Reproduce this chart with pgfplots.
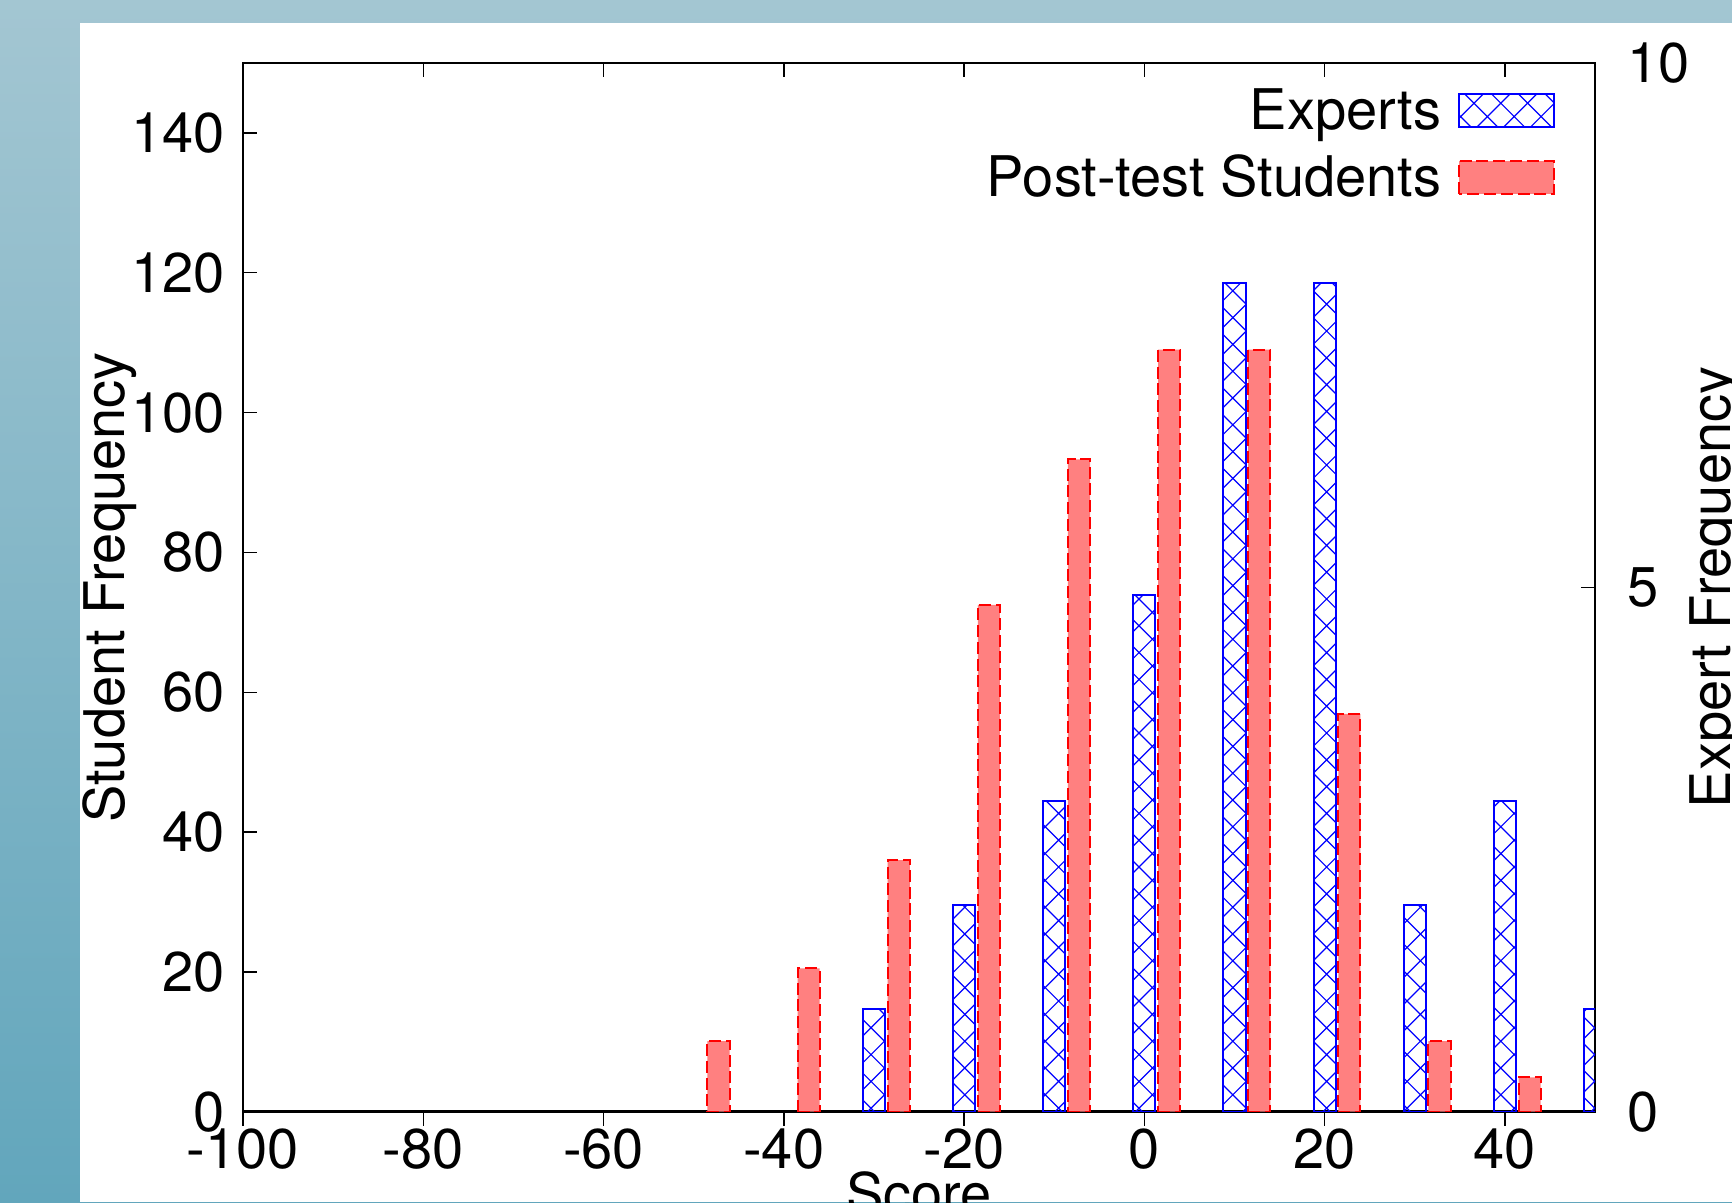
\documentclass[border=0pt]{standalone}
\usepackage{fontspec}
\setmainfont{TeX Gyre Heros}
\usepackage{pgfplots}
\pgfplotsset{compat=1.18}
\usetikzlibrary{patterns}

\pgfdeclarepatternformonly{diagcross}{\pgfqpoint{-0.5pt}{-0.5pt}}{\pgfqpoint{7.2pt}{7.2pt}}{\pgfqpoint{6.7pt}{6.7pt}}{%
  \pgfsetlinewidth{0.3pt}%
  \pgfpathmoveto{\pgfqpoint{0pt}{0pt}}\pgfpathlineto{\pgfqpoint{6.7pt}{6.7pt}}%
  \pgfpathmoveto{\pgfqpoint{0pt}{6.7pt}}\pgfpathlineto{\pgfqpoint{6.7pt}{0pt}}%
  \pgfusepath{stroke}}

\definecolor{salmon}{RGB}{255,128,128}
\definecolor{bgtop}{RGB}{163,198,210}
\definecolor{bgbot}{RGB}{98,166,188}
\newcommand\lblfont{\fontsize{14}{16.8}\selectfont}
\pgfplotsset{mylegimg/.style={legend image code/.code={\draw[##1] (0pt,-2.9pt) rectangle (23.75pt,5.3pt);}}}

\begin{document}
\begin{tikzpicture}
\shade[top color=bgtop, bottom color=bgbot] (0,0) rectangle (433pt,300.5pt);
\fill[white] (20pt,0) rectangle (433pt,294.75pt);
\begin{scope}
\clip (0,0) rectangle (433pt,300.5pt);
\begin{axis}[
  at={(60.75pt,22.575pt)}, anchor=south west, scale only axis,
  width=338pt, height=262.175pt,
  xmin=-100, xmax=50, ymin=0, ymax=150,
  xtick={-100,-80,...,40}, ytick={0,20,...,140},
  xtick pos=bottom, ytick pos=left,
  tick align=inside, major tick length=3.5pt,
  axis line style={line width=0.7pt},
  every tick/.style={black, line width=0.35pt},
  tick label style={font=\lblfont},
  label style={font=\lblfont},
  /pgf/number format/assume math mode=true,
  yticklabel style={xshift=-1pt},
  xticklabel style={yshift=2.8pt},
  xlabel={Score}, ylabel={Student Frequency},
  xlabel style={at={(axis description cs:0.5,-0.0975)}, anchor=base},
  ylabel style={at={(axis description cs:-0.0876,0.5)}, anchor=base},
  ybar, bar width=2.45, bar shift=0pt,
]
\addplot[fill=salmon, draw=red, dash pattern=on 3pt off 1.2pt, line width=0.5pt]
  coordinates {(-47.25,10.1) (-37.25,20.5) (-27.25,36.0) (-17.25,72.5) (-7.25,93.3)
               (2.75,109.0) (12.75,109.0) (22.75,56.9) (32.75,10.1) (42.75,4.9)};
\end{axis}
\begin{axis}[
  at={(60.75pt,22.575pt)}, anchor=south west, scale only axis,
  width=338pt, height=262.175pt,
  xmin=-100, xmax=50, ymin=0, ymax=10,
  ytick={0,5,10}, xtick={-100,-80,...,40}, xticklabels=\empty,
  xtick pos=top, ytick pos=right, yticklabel pos=right,
  axis line style={draw=none},
  tick align=inside, major tick length=3.5pt,
  every tick/.style={black, line width=0.35pt},
  x tick style={yshift=-3.5pt},
  tick label style={font=\lblfont},
  label style={font=\lblfont},
  /pgf/number format/assume math mode=true,
  yticklabel style={xshift=4.5pt},
  ylabel={Expert Frequency},
  ylabel style={at={(axis description cs:1.0999,0.5)}, anchor=base},
  ybar, bar width=2.45, bar shift=0pt,
  legend style={draw=none, fill=none, at={(1,1)}, anchor=north east,
    xshift=-9.85pt, yshift=-6.3pt, inner sep=0pt, row sep=3.8pt, column sep=4.1pt,
    font=\lblfont, nodes={inner sep=0pt, text height=10pt, text depth=3pt}},
  legend cell align=right, legend plot pos=right,
]
\addplot[draw=blue, line width=0.5pt, pattern=diagcross, pattern color=blue, mylegimg]
  coordinates {(-30,0.98) (-20,1.97) (-10,2.96) (0,4.93) (10,7.9) (20,7.9)
               (30,1.97) (40,2.96) (50,0.98)};
\addlegendentry{Experts}
\addlegendimage{fill=salmon, draw=red, dash pattern=on 3pt off 1.2pt, line width=0.5pt, mylegimg}
\addlegendentry{Post-test Students}
\end{axis}
\end{scope}
\pgfresetboundingbox
\useasboundingbox (0,0) rectangle (433pt,300.5pt);
\end{tikzpicture}
\end{document}
